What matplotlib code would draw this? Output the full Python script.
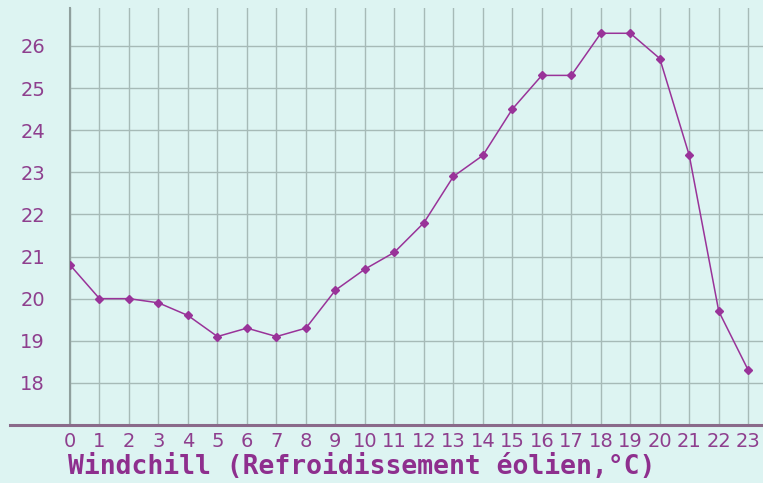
import matplotlib.pyplot as plt
from matplotlib.lines import Line2D

hours = list(range(24))
windchill = [20.8, 20.0, 20.0, 19.9, 19.6, 19.1, 19.3, 19.1, 19.3, 20.2, 20.7, 21.1,
             21.8, 22.9, 23.4, 24.5, 25.3, 25.3, 26.3, 26.3, 25.7, 23.4, 19.7, 18.3]
yticks = [18, 19, 20, 21, 22, 23, 24, 25, 26]
label = 'Windchill (Refroidissement éolien,°C)'

bg = '#ddf4f2'
purple = '#993399'

fig = plt.figure(figsize=(7.63, 4.83), dpi=100, facecolor=bg)
ax = fig.add_axes([70 / 763, 58 / 483, 693 / 763, 417 / 483], facecolor=bg)

ax.plot(hours, windchill, color=purple, lw=1.1, marker='D', ms=4.5,
        mfc=purple, mec=purple, zorder=3)

ax.set_xlim(0, 23.5)
ax.set_ylim(17.0, 26.9)
ax.set_xticks(hours)
ax.set_xticklabels([str(h) for h in hours])
ax.set_yticks(yticks)
ax.grid(True, color='#a6bab7', lw=1.0)
ax.tick_params(length=0, labelsize=14, labelcolor='#8e3f8e')
ax.tick_params(axis='y', pad=18)
ax.tick_params(axis='x', pad=5)

for s in ['top', 'right', 'bottom']:
    ax.spines[s].set_visible(False)
ax.spines['left'].set_color('#8f9f9d')
ax.spines['left'].set_linewidth(1.5)

# bottom axis line reaching past the y axis
fig.add_artist(Line2D([10 / 763, 1.0], [58 / 483, 58 / 483], color='#8a6a8a', lw=2.2,
                      transform=fig.transFigure))

fig.text(68 / 763, 16 / 483, label, fontsize=19, fontweight='bold',
         family='DejaVu Sans Mono', color='#8e2f8e', ha='left', va='center')

fig.savefig('out.png', dpi=100, facecolor=bg)
